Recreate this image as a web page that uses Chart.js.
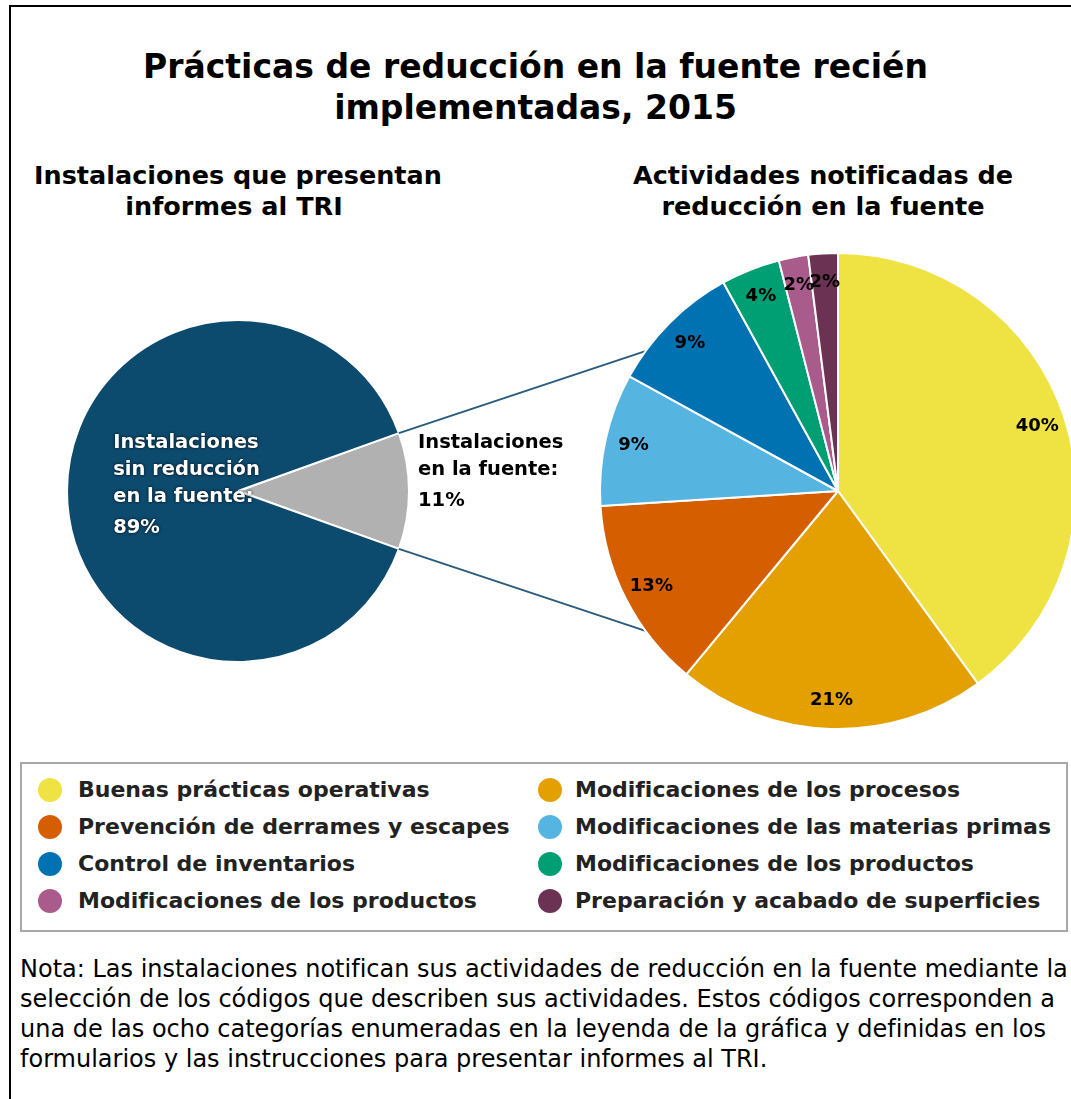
<!DOCTYPE html>
<html lang="es">
<head>
<meta charset="utf-8">
<title>Prácticas de reducción en la fuente recién implementadas, 2015</title>
<script src="https://cdn.jsdelivr.net/npm/chart.js@4.4.1/dist/chart.umd.min.js"></script>
<style>
  html, body { margin: 0; padding: 0; background: #fff; overflow: hidden; }
  #page { position: relative; width: 1071px; height: 1099px; overflow: hidden; font-family: "DejaVu Sans", sans-serif; color: #000; }
  #frame { position: absolute; left: 9px; top: 5px; width: 1200px; height: 1200px; border: 2px solid #000; }
  .t { position: absolute; text-align: center; font-weight: 700; white-space: nowrap; }
  #title { left: 0; width: 1071px; top: 46px; font-size: 33px; line-height: 41px; }
  #subLeft { left: 34px; width: 400px; top: 160px; font-size: 25.5px; line-height: 31px; }
  #subRight { left: 623px; width: 400px; top: 160px; font-size: 25.5px; line-height: 31px; }
  #leftPie { position: absolute; left: 0; top: 300px; }
  #rightPie { position: absolute; left: 380px; top: 240px; }
  #legend { position: absolute; left: 20px; top: 762px; width: 1048px; height: 170px; border: 2px solid #a8a8a8; box-sizing: border-box; }
  .item { position: absolute; font-weight: 700; font-size: 22px; line-height: 24px; white-space: nowrap; color: #222; }
  .dot { position: absolute; width: 24px; height: 24px; border-radius: 50%; }
  #note { position: absolute; left: 20px; top: 954px; font-size: 24px; line-height: 30px; white-space: nowrap; }
</style>
</head>
<body>
<div id="page">
  <div id="frame"></div>
  <div id="title" class="t">Prácticas de reducción en la fuente recién<br>implementadas, 2015</div>
  <div id="subLeft" class="t">Instalaciones que presentan<br>informes al TRI</div>
  <div id="subRight" class="t">Actividades notificadas de<br>reducción en la fuente</div>
  <canvas id="leftPie" width="600" height="382"></canvas>
  <canvas id="rightPie" width="916" height="502"></canvas>
  <div id="legend"></div>
  <div id="note">Nota: Las instalaciones notifican sus actividades de reducción en la fuente mediante la<br>selección de los códigos que describen sus actividades. Estos códigos corresponden a<br>una de las ocho categorías enumeradas en la leyenda de la gráfica y definidas en los<br>formularios y las instrucciones para presentar informes al TRI.</div>
</div>
<script>
// gráfica de la izquierda: instalaciones
const leftLabels = [
  ["Instalaciones", "en la fuente:"],
  ["Instalaciones", "sin reducción", "en la fuente:"]
];
const leftValues = [11, 89];
const leftColors = ["#b1b1b1", "#0c4a6e"];

// gráfica de la derecha: actividades
const rightLabels = [
  "Buenas prácticas operativas",
  "Modificaciones de los procesos",
  "Prevención de derrames y escapes",
  "Modificaciones de las materias primas",
  "Control de inventarios",
  "Modificaciones de los productos",
  "Modificaciones de los productos",
  "Preparación y acabado de superficies"
];
const rightValues = [40, 21, 13, 9, 9, 4, 2, 2];
const rightColors = ["#efe343", "#e3a000", "#d55e00", "#56b4e0", "#0072b2", "#009e73", "#a95b8c", "#6b3253"];

const leftCanvas = document.getElementById("leftPie");
const rightCanvas = document.getElementById("rightPie");

// etiquetas del pastel izquierdo
const leftLabelPlugin = {
  id: "leftLabels",
  afterDatasetsDraw(chart) {
    const ctx = chart.ctx;
    const arcs = chart.getDatasetMeta(0).data;
    ctx.save();
    ctx.font = "bold 19.5px 'DejaVu Sans'";
    ctx.textAlign = "left";
    ctx.textBaseline = "middle";
    arcs.forEach((arc, i) => {
      const R = arc.outerRadius;
      const lines = leftLabels[i].concat([leftValues[i] + "%"]);
      let x;
      if (i === 0) {
        x = arc.x + R + 9;
        ctx.fillStyle = "#000";
        ctx.shadowBlur = 0;
      } else {
        x = arc.x - 0.73 * R;
        ctx.fillStyle = "#fff";
        ctx.shadowColor = "rgba(0,0,0,0.9)";
        ctx.shadowBlur = 3;
      }
      const y = arc.y - 0.28 * R;
      lines.forEach((ln, k) => {
        const extra = k === lines.length - 1 ? 4 : 0;
        ctx.fillText(ln, x, y + k * 27 + extra);
      });
    });
    ctx.restore();
  }
};

const leftTotal = leftValues.reduce((a, b) => a + b, 0);

const leftChart = new Chart(leftCanvas, {
  type: "pie",
  data: {
    labels: leftLabels.map((l) => l.join(" ")),
    datasets: [{
      data: leftValues,
      backgroundColor: leftColors,
      borderColor: "#fff",
      borderWidth: 2,
      radius: 171
    }]
  },
  options: {
    responsive: false,
    animation: false,
    rotation: 90 - (leftValues[0] / leftTotal) * 180,
    layout: { padding: { left: 67, right: 191, top: 20, bottom: 20 } },
    plugins: { legend: { display: false }, tooltip: { enabled: false } }
  },
  plugins: [leftLabelPlugin]
});

// líneas que unen los dos pasteles
const connectorPlugin = {
  id: "connector",
  beforeDatasetsDraw(chart) {
    const grey = leftChart.getDatasetMeta(0).data[0];
    const big = chart.getDatasetMeta(0).data[0];
    const dx = leftCanvas.offsetLeft - rightCanvas.offsetLeft;
    const dy = leftCanvas.offsetTop - rightCanvas.offsetTop;
    const a = 36 * Math.PI / 180;
    const ctx = chart.ctx;
    ctx.save();
    ctx.strokeStyle = "#2b5b7c";
    ctx.lineWidth = 2;
    [[grey.startAngle, -1], [grey.endAngle, 1]].forEach(([ang, s]) => {
      ctx.beginPath();
      ctx.moveTo(grey.x + grey.outerRadius * Math.cos(ang) + dx, grey.y + grey.outerRadius * Math.sin(ang) + dy);
      ctx.lineTo(big.x - big.outerRadius * Math.cos(a), big.y + s * big.outerRadius * Math.sin(a));
      ctx.stroke();
    });
    ctx.restore();
  }
};

// porcentajes del pastel derecho
const percentPlugin = {
  id: "percent",
  afterDatasetsDraw(chart) {
    const ctx = chart.ctx;
    ctx.save();
    ctx.font = "bold 18px 'DejaVu Sans'";
    ctx.fillStyle = "#000";
    ctx.textAlign = "center";
    ctx.textBaseline = "middle";
    chart.getDatasetMeta(0).data.forEach((arc, i) => {
      const mid = (arc.startAngle + arc.endAngle) / 2;
      const r = 0.88 * arc.outerRadius;
      ctx.fillText(rightValues[i] + "%", arc.x + r * Math.cos(mid), arc.y + r * Math.sin(mid));
    });
    ctx.restore();
  }
};

const rightChart = new Chart(rightCanvas, {
  type: "pie",
  data: {
    labels: rightLabels,
    datasets: [{
      data: rightValues,
      backgroundColor: rightColors,
      borderColor: "#fff",
      borderWidth: 2,
      radius: 238
    }]
  },
  options: {
    responsive: false,
    animation: false,
    layout: { padding: 0 },
    plugins: { legend: { display: false }, tooltip: { enabled: false } }
  },
  plugins: [connectorPlugin, percentPlugin]
});

// leyenda en dos columnas
const legendBox = document.getElementById("legend");
rightLabels.forEach((label, i) => {
  const col = i % 2;
  const row = Math.floor(i / 2);
  const cy = 26 + row * 37;
  const dot = document.createElement("div");
  dot.className = "dot";
  dot.style.background = rightColors[i];
  dot.style.left = (col === 0 ? 16 : 516) + "px";
  dot.style.top = (cy - 12) + "px";
  legendBox.appendChild(dot);
  const item = document.createElement("div");
  item.className = "item";
  item.textContent = label;
  item.style.left = (col === 0 ? 56 : 553) + "px";
  item.style.top = (cy - 12) + "px";
  legendBox.appendChild(item);
});
</script>
</body>
</html>
